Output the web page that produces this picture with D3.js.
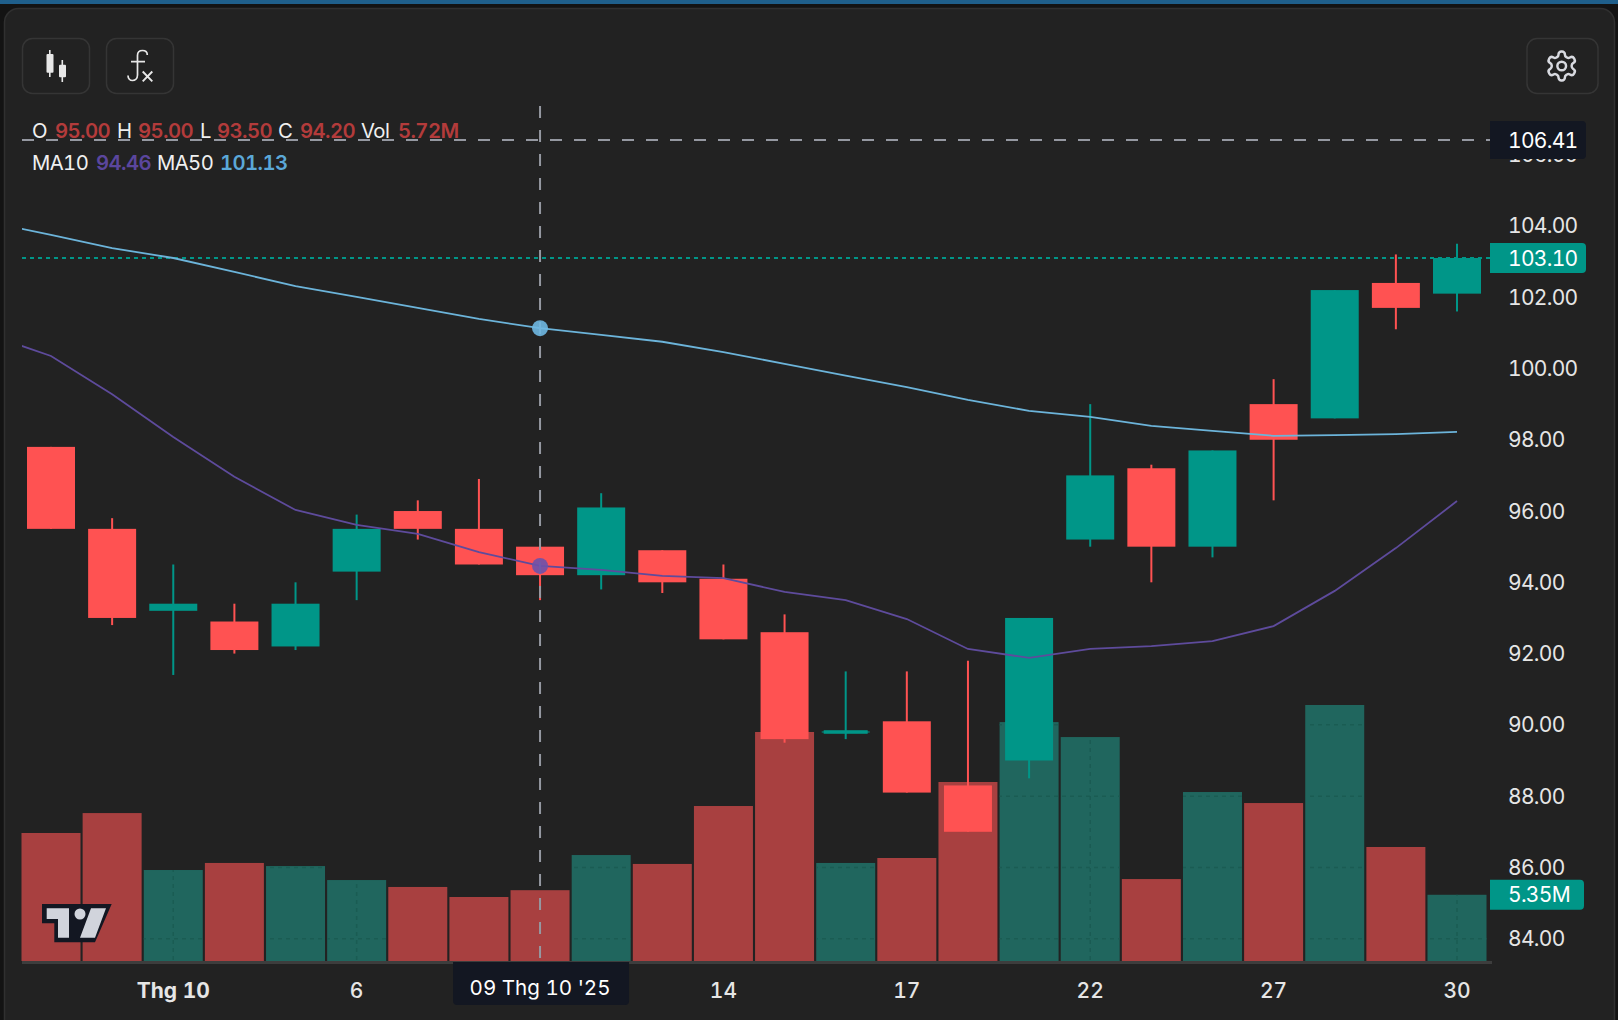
<!DOCTYPE html>
<html>
<head>
<meta charset="utf-8">
<script src="https://cdn.jsdelivr.net/npm/d3@7"></script>
<style>
html,body{margin:0;padding:0;background:#131313;overflow:hidden}
svg{display:block}
text{font-family:Inter,"Noto Sans",sans-serif;font-variant-numeric:tabular-nums}
</style>
</head>
<body>
<svg id="c" width="1618" height="1020"></svg>
<script>
const dates = ["29 Sep","30 Sep","1 Oct","2 Oct","3 Oct","6 Oct","7 Oct","8 Oct","9 Oct","10 Oct","13 Oct","14 Oct","15 Oct","16 Oct","17 Oct","20 Oct","21 Oct","22 Oct","23 Oct","24 Oct","27 Oct","28 Oct","29 Oct","30 Oct"];
const opens  = [97.8,95.5,93.2,92.9,92.2,94.3,96.0,95.5,95.0,94.2,94.9,94.1,92.6,89.75,90.1,88.3,89.0,95.2,97.2,95.0,99.0,98.6,102.4,102.1];
const highs  = [97.8,95.8,94.5,93.4,94.0,95.9,96.3,96.9,95.0,96.5,94.9,94.5,93.1,91.5,91.5,91.8,93.0,99.0,97.3,97.7,99.7,102.2,103.2,103.5];
const lows   = [95.5,92.8,91.4,92.0,92.1,93.5,95.2,94.5,93.5,93.8,93.7,92.4,89.5,89.6,88.1,87.0,88.5,95.0,94.0,94.7,96.3,98.6,101.1,101.6];
const closes = [95.5,93.0,93.4,92.1,93.4,95.5,95.5,94.5,94.2,96.1,94.0,92.4,89.6,89.85,88.1,87.0,93.0,97.0,95.0,97.7,98.0,102.2,101.7,103.1];
const volumes = [10.34,11.95,7.35,7.92,7.67,6.54,5.98,5.17,5.72,8.56,7.84,12.52,18.5,7.92,8.32,14.46,19.3,18.09,6.62,13.65,12.76,20.68,9.21,5.35];
const ma10Before = 100.94;
const ma50Before = 104.10;
const ma10 = [100.35,99.28,98.08,96.96,96.03,95.61,95.36,94.85,94.46,94.35,94.18,94.12,93.73,93.50,92.97,92.13,91.88,92.13,92.21,92.35,92.77,93.76,94.96,96.28];
const ma50 = [103.75,103.38,103.10,102.71,102.31,102.01,101.70,101.39,101.13,100.94,100.75,100.46,100.13,99.80,99.48,99.12,98.81,98.64,98.39,98.25,98.11,98.13,98.16,98.22];
const yTicks = [84,86,88,90,92,94,96,98,100,102,104,106];
const xTickIndex = [2,5,11,14,17,20,23];
const xTickLabels = ["Thg 10","6","14","17","22","27","30"];
const hoverIndex = 8;
const hoverPrice = 106.41;
const lastPrice = 103.10;
const lastVolume = "5.35M";
const hoverDate = "09 Thg 10 '25";

const RED="#ff5252", GREEN="#009688", VRED="#a84040", VGREEN="#20665e", GRID="#1a5c53";
const TXT="#e6e6e6", DARK="#131722", CROSS="#9598a1";
const L=22, R=1490, AXIS=961;

const svg=d3.select("#c");
const x=d3.scaleLinear().domain([0,dates.length-1]).range([51,1457]);
const y=d3.scaleLinear().domain([84,lastPrice]).range([938.7,258]);
const v=d3.scaleLinear().domain([0,20.68]).range([AXIS,705]);

// frame
svg.append("rect").attr("width",1618).attr("height",4).attr("fill","#1f5f8b");
svg.append("rect").attr("x",4.5).attr("y",8.5).attr("width",1610).attr("height",1040).attr("rx",14)
  .attr("fill","#222222").attr("stroke","#303030").attr("stroke-width",1.5);

// toolbar buttons
[[22.5,67],[106.5,67],[1527,71]].forEach(([bx,w])=>{
  svg.append("rect").attr("x",bx).attr("y",38.5).attr("width",w).attr("height",55).attr("rx",10)
    .attr("fill","none").attr("stroke","#353535").attr("stroke-width",1.5);
});
const ic=svg.append("g").attr("fill","#e8e8e8");
ic.append("rect").attr("x",49).attr("y",50).attr("width",1.6).attr("height",27);
ic.append("rect").attr("x",46.5).attr("y",54).attr("width",7).attr("height",18.7).attr("rx",1);
ic.append("rect").attr("x",61.5).attr("y",60).attr("width",1.6).attr("height",22);
ic.append("rect").attr("x",59).attr("y",64.7).attr("width",7).attr("height",12.6).attr("rx",1);
svg.append("path").attr("d","M147.3 55 C147.3 52 145 50.5 142.5 50.5 C139.5 50.5 137.5 52.5 137.5 55.5 L137.5 75 C137.5 78.5 135 80.5 132.5 80.5 C130 80.5 128 78.5 128 75.5 M131 61.7H145")
  .attr("fill","none").attr("stroke","#e8e8e8").attr("stroke-width",1.7);
svg.append("path").attr("d","M142.7 71.5 L152.3 81.3 M152.3 71.5 L142.7 81.3")
  .attr("fill","none").attr("stroke","#e8e8e8").attr("stroke-width",1.9);
const gear=svg.append("g").attr("transform","translate(1544.3,48.6) scale(1.45)")
  .attr("fill","none").attr("stroke","#d8dae0").attr("stroke-width",1.7);
gear.append("path").attr("d","M12.22 2h-.44a2 2 0 0 0-2 2v.18a2 2 0 0 1-1 1.73l-.43.25a2 2 0 0 1-2 0l-.15-.08a2 2 0 0 0-2.73.73l-.22.38a2 2 0 0 0 .73 2.73l.15.1a2 2 0 0 1 1 1.72v.51a2 2 0 0 1-1 1.74l-.15.09a2 2 0 0 0-.73 2.73l.22.38a2 2 0 0 0 2.73.73l.15-.08a2 2 0 0 1 2 0l.43.25a2 2 0 0 1 1 1.73V20a2 2 0 0 0 2 2h.44a2 2 0 0 0 2-2v-.18a2 2 0 0 1 1-1.73l.43-.25a2 2 0 0 1 2 0l.15.08a2 2 0 0 0 2.73-.73l.22-.39a2 2 0 0 0-.73-2.73l-.15-.08a2 2 0 0 1-1-1.74v-.5a2 2 0 0 1 1-1.74l.15-.09a2 2 0 0 0 .73-2.73l-.22-.38a2 2 0 0 0-2.73-.73l-.15.08a2 2 0 0 1-2 0l-.43-.25a2 2 0 0 1-1-1.73V4a2 2 0 0 0-2-2z");
gear.append("circle").attr("cx",12).attr("cy",12).attr("r",3);

// clip paths
const defs=svg.append("defs");
defs.append("clipPath").attr("id","plot").append("rect").attr("x",L).attr("y",100).attr("width",R-L).attr("height",AXIS-100);
const isUp=i=>closes[i]>=opens[i];
const idx=dates.map((_,i)=>i);
defs.append("clipPath").attr("id","greenVol").selectAll("rect").data(idx.filter(isUp)).join("rect")
  .attr("x",i=>x(i)-29.5).attr("width",59).attr("y",i=>v(volumes[i])).attr("height",i=>AXIS-v(volumes[i]));

// volume bars
svg.append("g").selectAll("rect").data(idx).join("rect")
  .attr("x",i=>x(i)-29.5).attr("width",59).attr("y",i=>v(volumes[i])).attr("height",i=>AXIS-v(volumes[i]))
  .attr("fill",i=>isUp(i)?VGREEN:VRED);

// grid, visible through the green volume bars
const grid=svg.append("g").attr("clip-path","url(#greenVol)").attr("stroke",GRID).attr("stroke-width",1.5).attr("stroke-dasharray","4 4");
grid.selectAll(".h").data(yTicks).join("line").attr("x1",L).attr("x2",R).attr("y1",d=>y(d)).attr("y2",d=>y(d));
grid.selectAll(".v").data(xTickIndex).join("line").attr("x1",d=>x(d)).attr("x2",d=>x(d)).attr("y1",100).attr("y2",AXIS);

// axis baseline
svg.append("rect").attr("x",L).attr("y",AXIS).attr("width",R-L+2).attr("height",3).attr("fill","#3d3d3d");

// candles
const cg=svg.append("g");
cg.selectAll(".w").data(idx).join("rect")
  .attr("x",i=>x(i)-1).attr("width",2).attr("y",i=>y(highs[i])).attr("height",i=>y(lows[i])-y(highs[i]))
  .attr("fill",i=>isUp(i)?GREEN:RED);
const doji=i=>Math.abs(opens[i]-closes[i])<0.15;
cg.selectAll(".b").data(idx).join("rect")
  .attr("x",i=>x(i)-(doji(i)?22:24)).attr("width",i=>doji(i)?44:48)
  .attr("y",i=>y(Math.max(opens[i],closes[i])))
  .attr("height",i=>y(Math.min(opens[i],closes[i]))-y(Math.max(opens[i],closes[i])))
  .attr("fill",i=>isUp(i)?GREEN:RED);
cg.selectAll(".d").data(idx.filter(doji)).join("rect")
  .attr("x",i=>x(i)-24).attr("width",48).attr("y",i=>y((opens[i]+closes[i])/2)-0.5).attr("height",1)
  .attr("fill",GREEN);

// last price line
svg.append("line").attr("x1",L).attr("x2",R).attr("y1",y(lastPrice)).attr("y2",y(lastPrice))
  .attr("stroke",GREEN).attr("stroke-width",2).attr("stroke-dasharray","4 4");

// moving averages
const lineGen=d3.line().x(d=>x(d[0])).y(d=>y(d[1]));
const withBefore=(arr,b)=>[[-1,b]].concat(arr.map((m,i)=>[i,m]));
const lg=svg.append("g").attr("clip-path","url(#plot)").attr("fill","none").attr("stroke-width",1.8);
lg.append("path").attr("d",lineGen(withBefore(ma10,ma10Before))).attr("stroke","#5e4b9c");
lg.append("path").attr("d",lineGen(withBefore(ma50,ma50Before))).attr("stroke","#6cb4da");

// crosshair
svg.append("line").attr("x1",x(hoverIndex)).attr("x2",x(hoverIndex)).attr("y1",106).attr("y2",AXIS)
  .attr("stroke",CROSS).attr("stroke-width",2).attr("stroke-dasharray","12 12");
svg.append("line").attr("x1",L).attr("x2",R).attr("y1",y(hoverPrice)).attr("y2",y(hoverPrice))
  .attr("stroke",CROSS).attr("stroke-width",2).attr("stroke-dasharray","12 12");
svg.append("circle").attr("cx",x(hoverIndex)).attr("cy",y(ma10[hoverIndex])).attr("r",8).attr("fill","#6b52ab").attr("fill-opacity",0.9);
svg.append("circle").attr("cx",x(hoverIndex)).attr("cy",y(ma50[hoverIndex])).attr("r",8).attr("fill","#6fb8e2").attr("fill-opacity",0.9);

// y axis labels
const yAxis=svg.append("g").attr("font-size",21).attr("letter-spacing",-0.7).attr("fill",TXT).attr("font-weight",400);
yAxis.selectAll("text").data(yTicks).join("text").attr("x",1508).attr("y",d=>y(d)).attr("dy","0.36em")
  .text(d=>d3.format(".2f")(d));

// right labels
function tag(cy,h,fill,label,w){
  const x0=R, r=4, t=cy-h/2;
  svg.append("path").attr("d",`M${x0} ${t}H${x0+w-r}a${r} ${r} 0 0 1 ${r} ${r}V${t+h-r}a${r} ${r} 0 0 1 ${-r} ${r}H${x0}Z`).attr("fill",fill);
  svg.append("text").attr("x",1508).attr("y",cy).attr("dy","0.36em").attr("font-size",21).attr("letter-spacing",-0.7).attr("fill","#ffffff").text(label);
}
tag(y(hoverPrice),38,DARK,d3.format(".2f")(hoverPrice),96);
tag(y(lastPrice),30,GREEN,d3.format(".2f")(lastPrice),96);
tag(v(volumes[23]),30,GREEN,lastVolume,94);

// x axis labels
svg.append("g").attr("font-size",21).attr("fill",TXT).selectAll("text").data(xTickIndex).join("text")
  .attr("x",d=>x(d)).attr("y",990).attr("dy","0.36em").attr("text-anchor","middle")
  .attr("font-weight",(d,i)=>i===0?700:500).text((d,i)=>xTickLabels[i]);

// crosshair date label
const dx=x(hoverIndex);
svg.append("path").attr("d",`M${dx-87} 962H${dx+89}V1001a4 4 0 0 1 -4 4H${dx-83}a4 4 0 0 1 -4 -4Z`).attr("fill",DARK);
svg.append("text").attr("x",dx).attr("y",988).attr("dy","0.36em").attr("text-anchor","middle").attr("font-size",20.6)
  .attr("fill","#ffffff").text(hoverDate);

// legend
const fmt=d3.format(".2f");
const legendRows=[
  [[32,"O",0],[55,fmt(opens[hoverIndex]),1],[117,"H",0],[138,fmt(highs[hoverIndex]),1],[200,"L",0],[217,fmt(lows[hoverIndex]),1],[278,"C",0],[300,fmt(closes[hoverIndex]),1],[361,"Vol",0],[398,"5.72M",1]],
  [[32,"MA10",0],[96,fmt(ma10[hoverIndex]),2],[157,"MA50",0],[220,fmt(ma50[hoverIndex]),3]]
];
const legendColors=["#f0f0f0","#b33b3b","#5b469e","#5ba8d8"];
legendRows.forEach((row,r)=>{
  row.forEach(([lx,t,c])=>{
    svg.append("text").attr("x",lx).attr("y",r===0?138:170).attr("font-size",20.3).attr("letter-spacing",-0.6).attr("font-weight",c?600:400)
      .attr("fill",legendColors[c]).text(t);
  });
});

// logo
const logo=svg.append("g");
logo.append("path").attr("d","M42 904H111.7L95 942.3H54.3V923.3H42Z").attr("fill",DARK);
logo.append("path").attr("d","M46.7 908.3H69V937.7H58V919H46.7Z M91 908.3H106L95 937.7H80Z").attr("fill","#d1d4dc");
logo.append("circle").attr("cx",80).attr("cy",914).attr("r",5.5).attr("fill","#d1d4dc");
</script>
</body>
</html>
